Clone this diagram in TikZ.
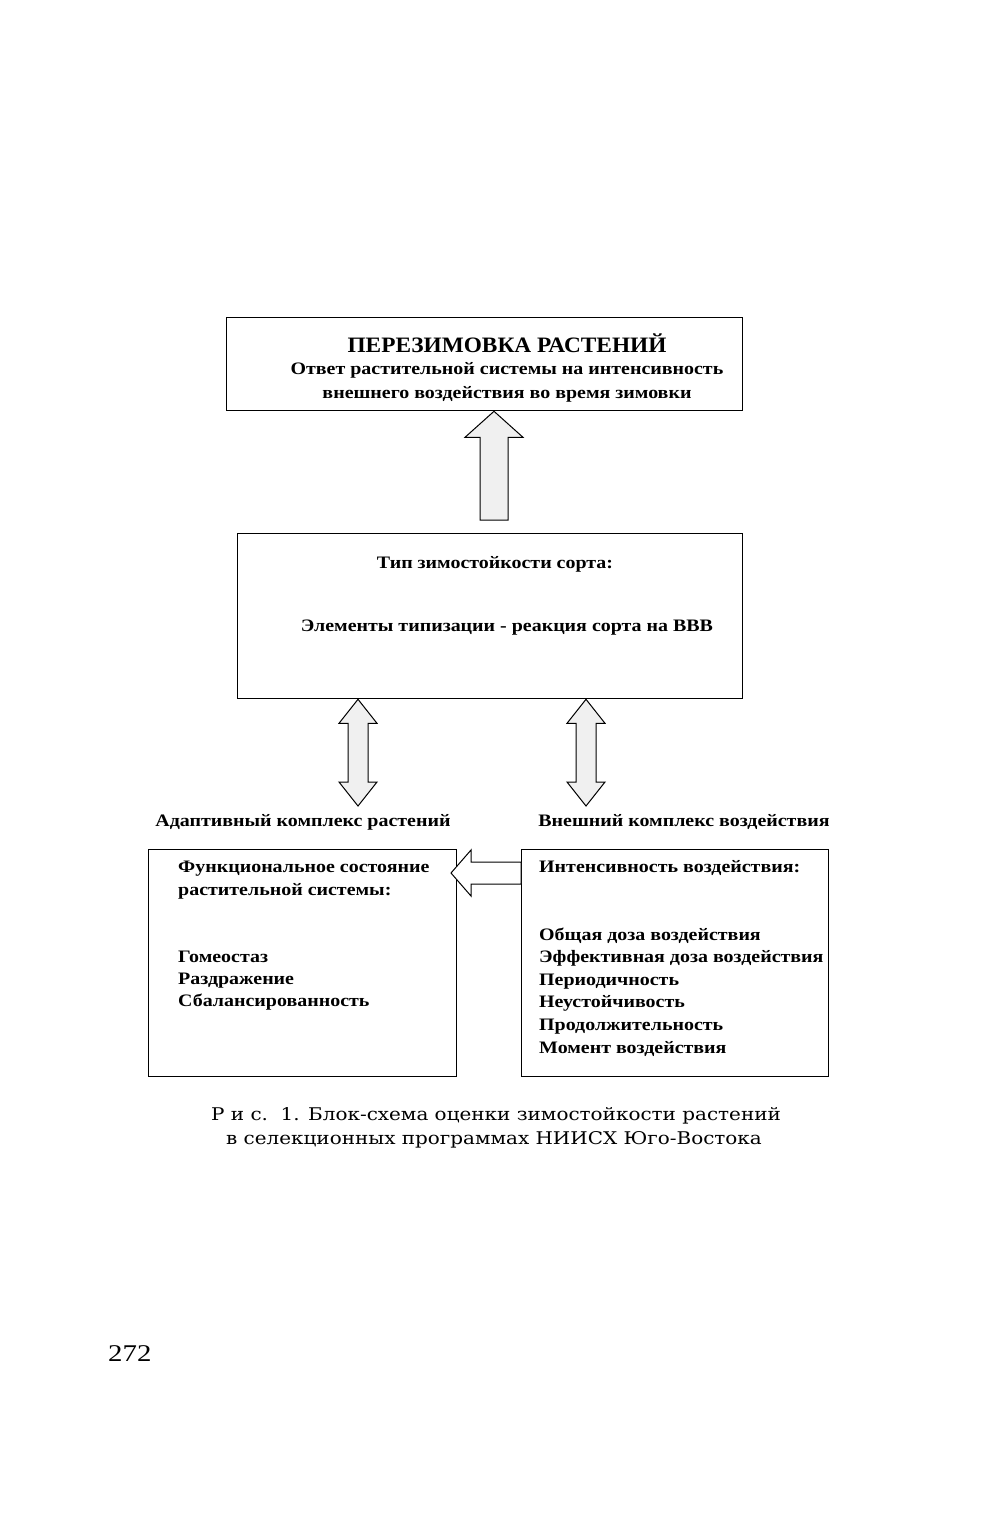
\documentclass[tikz,border=0pt]{standalone}
\usepackage{fontspec}
\setmainfont{Liberation Serif}
\newfontfamily\bodyfont[FakeStretch=1.14]{Liberation Serif}
\newfontfamily\titlefont[FakeStretch=1.06]{Liberation Serif}
\newfontfamily\pgfont[FakeStretch=1.2]{Liberation Serif}
\newfontfamily\capfont[FakeStretch=1.14]{DejaVu Serif}
\usetikzlibrary{calc}
\begin{document}
\begin{tikzpicture}[x=1pt,y=-1pt,
  box/.style={draw,line width=1.3pt,inner sep=0pt},
  blk/.style={draw,line width=1pt,fill=gray!12,line join=miter},
  txt/.style={font=\bodyfont\bfseries\fontsize{17.5}{20}\selectfont,anchor=base west,inner sep=0pt},
  ctxt/.style={font=\bodyfont\bfseries\fontsize{17.5}{20}\selectfont,anchor=base,inner sep=0pt},
  captxt/.style={font=\capfont\fontsize{17.5}{20}\selectfont,anchor=base,inner sep=0pt}]
\useasboundingbox[fill=white] (0,0) rectangle (1004,1521);
% boxes
\node[box,minimum width=516,minimum height=93,anchor=north west] (top) at (226,317) {};
\node[box,minimum width=505,minimum height=165,anchor=north west] (mid) at (237,533) {};
\node[box,minimum width=308,minimum height=227,anchor=north west] (left) at (148,849) {};
\node[box,minimum width=307,minimum height=227,anchor=north west] (right) at (521,849) {};
% top texts
\node[ctxt,font=\titlefont\bfseries\fontsize{22}{26}\selectfont] (t1) at (507,352) {ПЕРЕЗИМОВКА РАСТЕНИЙ};
\node[ctxt] (t2) at (507,374) {Ответ растительной системы на интенсивность};
\node[ctxt] (t3) at (507,398) {внешнего воздействия во время зимовки};
% middle texts
\node[ctxt] (m1) at (495,568) {Тип зимостойкости сорта:};
\node[ctxt] (m2) at (507,631) {Элементы типизации - реакция сорта на ВВВ};
% labels
\node[ctxt] (la) at (303,826) {Адаптивный комплекс растений};
\node[ctxt] (lb) at (684,826) {Внешний комплекс воздействия};
% left box list
\node[txt] (a1) at (178,872) {Функциональное состояние};
\node[txt] (a2) at (178,895) {растительной системы:};
\node[txt] (a3) at (178,962) {Гомеостаз};
\node[txt] (a4) at (178,984) {Раздражение};
\node[txt] (a5) at (178,1006) {Сбалансированность};
% right box list
\node[txt] (b1) at (539,872) {Интенсивность воздействия:};
\node[txt] (b2) at (539,940) {Общая доза воздействия};
\node[txt] (b3) at (539,962) {Эффективная доза воздействия};
\node[txt] (b4) at (539,985) {Периодичность};
\node[txt] (b5) at (539,1007) {Неустойчивость};
\node[txt] (b6) at (539,1030) {Продолжительность};
\node[txt] (b7) at (539,1053) {Момент воздействия};
% caption
\node[captxt] (c1) at (496,1120) {Р и с.\ \ 1. Блок-схема оценки зимостойкости растений};
\node[captxt] (c2) at (494,1144) {в селекционных программах НИИСХ Юго-Востока};
\node[anchor=base west,inner sep=0pt,font=\pgfont\fontsize{24}{26}\selectfont] (pg) at (108,1361) {272};
% arrow end coordinates
\coordinate (ua) at (494,0 |- top.south);
\coordinate (ub) at (494,520);
\coordinate (da1) at (358,0 |- mid.south);
\coordinate (da2) at (358,806);
\coordinate (db1) at (586,0 |- mid.south);
\coordinate (db2) at (586,806);
\coordinate (ha) at (451,873);
\coordinate (hb) at (right.west |- 0,873);
% up arrow
\draw[blk] (ua) -- ++(29,26) -- ++(-15,0) |- ($(ub)+(-14,0)$) |- ($(ua)+(-14,26)$) -- ++(-15,0) -- cycle;
% double arrows
\draw[blk] (da1) -- ++(19,24) -- ++(-9,0) |- ($(da2)+(10,-24)$) -- ++(9,0) -- (da2) -- ++(-19,-24) -- ++(9,0) |- ($(da1)+(-10,24)$) -- ++(-9,0) -- cycle;
\draw[blk] (db1) -- ++(19,24) -- ++(-9,0) |- ($(db2)+(10,-24)$) -- ++(9,0) -- (db2) -- ++(-19,-24) -- ++(9,0) |- ($(db1)+(-10,24)$) -- ++(-9,0) -- cycle;
% horizontal arrow
\draw[blk,fill=white] (ha) -- ++(20,-23) -- ++(0,12) -| ($(hb)+(0,-11)$) -- ($(hb)+(0,11)$) -| ($(ha)+(20,11)$) -- ++(0,12) -- cycle;
\end{tikzpicture}
\end{document}
